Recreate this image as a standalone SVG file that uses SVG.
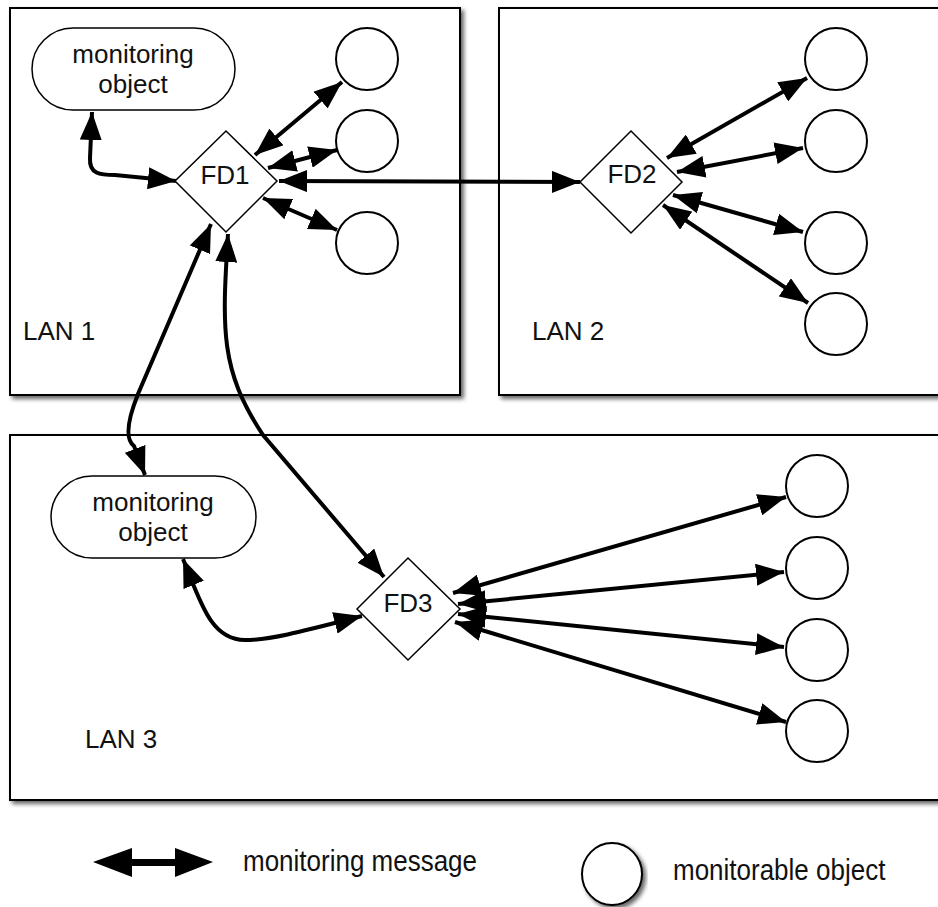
<svg xmlns="http://www.w3.org/2000/svg" width="938" height="907" viewBox="0 0 938 907">
  <defs>
    <style>
      .lan { fill: #fff; stroke: #000; stroke-width: 2; filter: url(#shadow); }
      .lbl { font-family: "Liberation Sans", Arial, sans-serif; font-size: 26px; fill: #111; }
      .mid { text-anchor: middle; }
      .mo { fill: #fff; stroke: #000; stroke-width: 1.5; }
      .fd { fill: #fff; stroke: #000; stroke-width: 1.5; }
      .obj { fill: #fff; stroke: #000; stroke-width: 2; }
      .msg { fill: none; stroke: #000; stroke-width: 4; marker-start: url(#ah); marker-end: url(#ah); }
    </style>
    <filter id="shadow" x="-5%" y="-5%" width="115%" height="115%">
      <feDropShadow dx="3" dy="3" stdDeviation="2" flood-color="#000" flood-opacity="0.6"/>
    </filter>
    <marker id="ah" viewBox="0 0 28 22" refX="28" refY="11" markerWidth="28" markerHeight="22" markerUnits="userSpaceOnUse" orient="auto-start-reverse">
      <path d="M0,0 L28,11 L0,22 Z" fill="#000"/>
    </marker>
  </defs>

  <rect width="938" height="907" fill="#fff"/>

  <!-- network segments -->
  <g id="lan1">
    <rect class="lan" x="10" y="8" width="450" height="387"/>
    <text class="lbl" x="23" y="340">LAN 1</text>
  </g>
  <g id="lan2">
    <rect class="lan" x="499" y="8" width="460" height="387"/>
    <text class="lbl" x="532" y="340">LAN 2</text>
  </g>
  <g id="lan3">
    <rect class="lan" x="10" y="435" width="950" height="365"/>
    <text class="lbl" x="85" y="748">LAN 3</text>
  </g>

  <!-- monitoring objects -->
  <g id="monitor1">
    <rect class="mo" x="32" y="28" width="203" height="82" rx="41" ry="41"/>
    <text class="lbl mid" x="133" y="63">monitoring</text>
    <text class="lbl mid" x="133" y="93">object</text>
  </g>
  <g id="monitor2">
    <rect class="mo" x="51" y="476" width="205" height="82" rx="41" ry="41"/>
    <text class="lbl mid" x="153" y="511">monitoring</text>
    <text class="lbl mid" x="153" y="541">object</text>
  </g>

  <!-- failure detectors -->
  <g id="fd1">
    <polygon class="fd" points="226,131 277,181 226,232 175,181"/>
    <text class="lbl mid" x="225" y="184">FD1</text>
  </g>
  <g id="fd2">
    <polygon class="fd" points="631,131 682,182 631,233 580,182"/>
    <text class="lbl mid" x="632" y="183">FD2</text>
  </g>
  <g id="fd3">
    <polygon class="fd" points="408,558 460,609 408,660 357,609"/>
    <text class="lbl mid" x="408" y="612">FD3</text>
  </g>

  <!-- monitorable objects -->
  <g id="obj-l1-a"><circle class="obj" cx="367" cy="59" r="31"/></g>
  <g id="obj-l1-b"><circle class="obj" cx="367" cy="141" r="31"/></g>
  <g id="obj-l1-c"><circle class="obj" cx="367" cy="243" r="31"/></g>
  <g id="obj-l2-a"><circle class="obj" cx="836" cy="59" r="31"/></g>
  <g id="obj-l2-b"><circle class="obj" cx="836" cy="141" r="31"/></g>
  <g id="obj-l2-c"><circle class="obj" cx="836" cy="243" r="31"/></g>
  <g id="obj-l2-d"><circle class="obj" cx="836" cy="324" r="31"/></g>
  <g id="obj-l3-a"><circle class="obj" cx="817" cy="486" r="31"/></g>
  <g id="obj-l3-b"><circle class="obj" cx="817" cy="568" r="31"/></g>
  <g id="obj-l3-c"><circle class="obj" cx="817" cy="650" r="31"/></g>
  <g id="obj-l3-d"><circle class="obj" cx="817" cy="731" r="31"/></g>

  <!-- monitoring messages -->
  <g id="connectors">
    <path class="msg" d="M92,112 L90,158 C89,174 100,175 115,175 L176,181"/>
    <path class="msg" d="M255,155 L342,82"/>
    <path class="msg" d="M268,168 L337,150"/>
    <path class="msg" d="M263,198 L337,230"/>
    <path class="msg" d="M279,181 L580,182"/>
    <path class="msg" d="M667,158 L807,78"/>
    <path class="msg" d="M677,172 L803,148"/>
    <path class="msg" d="M673,195 L803,232"/>
    <path class="msg" d="M663,205 L808,303"/>
    <path class="msg" d="M211,224 L138,394 C126,424 126,440 134,446 L145,475"/>
    <path class="msg" d="M228,234 C222,330 220,370 263,435 L384,577"/>
    <path class="msg" d="M183,559 C200,600 210,640 245,640 C270,640 300,632 362,616"/>
    <path class="msg" d="M453,593 L786,497"/>
    <path class="msg" d="M458,604 L784,572"/>
    <path class="msg" d="M458,614 L784,647"/>
    <path class="msg" d="M455,622 L786,722"/>
  </g>

  <!-- legend -->
  <g id="legend-message">
    <polygon points="93,862 132,848 132,859 175,859 175,848 213,862 175,877 175,866 132,866 132,877" fill="#000"/>
    <text class="lbl" transform="translate(243,871) scale(1,1.12)">monitoring message</text>
  </g>
  <g id="legend-object">
    <ellipse cx="612" cy="874" rx="30" ry="31" fill="#fff" stroke="#000" stroke-width="2" filter="url(#shadow)"/>
    <text class="lbl" transform="translate(673,880) scale(1,1.12)">monitorable object</text>
  </g>
</svg>
